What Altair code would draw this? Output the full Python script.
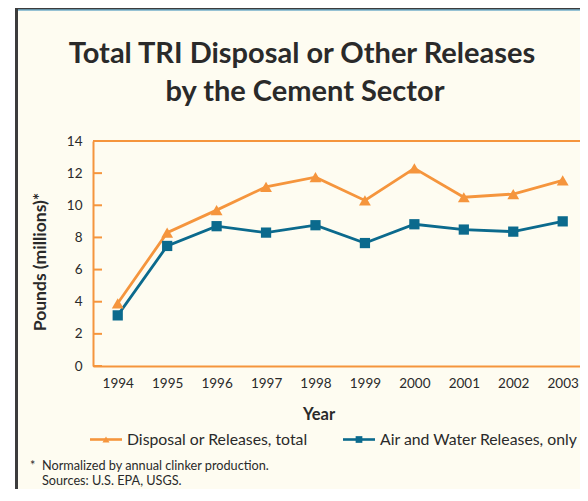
import altair as alt
import pandas as pd

years = [1994, 1995, 1996, 1997, 1998, 1999, 2000, 2001, 2002, 2003]
total = [3.9, 8.3, 9.7, 11.15, 11.75, 10.3, 12.3, 10.5, 10.7, 11.55]
air_water = [3.15, 7.47, 8.7, 8.3, 8.76, 7.65, 8.82, 8.49, 8.36, 9.0]
series_names = ["Disposal or Releases, total", "Air and Water Releases, only"]
y_ticks = [0, 2, 4, 6, 8, 10, 12, 14]
title_lines = ["Total TRI Disposal or Other Releases", "by the Cement Sector"]
note_lines = ["Normalized by annual clinker production.", "Sources: U.S. EPA, USGS."]

ORANGE = "#F5953D"
BLUE = "#0B6A8D"
TEXT = "#2A2A2A"
CREAM = "#FEFCF1"
FONT = "Lato"

df = pd.DataFrame({
    "year": years * 2,
    "value": total + air_water,
    "series": [series_names[0]] * len(years) + [series_names[1]] * len(years),
})

W, H = 487, 225
one = pd.DataFrame({"a": [0]})

xscale = alt.Scale(domain=[1993.5, 2003.35], nice=False, zero=False)
yscale = alt.Scale(domain=[0, 14], nice=False)
cscale = alt.Scale(domain=series_names, range=[ORANGE, BLUE])
sscale = alt.Scale(domain=series_names, range=["triangle-up", "square"])
zscale = alt.Scale(domain=series_names, range=[140, 105])

xaxis = alt.Axis(values=years, format="d", title=None, ticks=False, grid=False,
                 domainColor=ORANGE, domainWidth=2, labelFont=FONT, zindex=2,
                 labelFontSize=13.5, labelColor=TEXT, labelPadding=10,
                 labelOverlap=False)
yaxis = alt.Axis(values=y_ticks, title=None, ticks=False, grid=False,
                 domainColor=ORANGE, domainWidth=2, labelFont=FONT, zindex=2,
                 labelFontSize=13.5, labelColor=TEXT, labelPadding=11,
                 labelOverlap=False, labelBound=False, tickCount=8)

bg = alt.Chart(one).mark_rect(color=CREAM).encode(
    x=alt.value(-75), x2=alt.value(500), y=alt.value(-130.5), y2=alt.value(370))
border_left = alt.Chart(one).mark_rule(color="#3C3C3C", strokeWidth=3).encode(
    x=alt.value(-76.5), y=alt.value(-140), y2=alt.value(370))
border_top = alt.Chart(one).mark_rule(color="#3C3C3C", strokeWidth=2).encode(
    x=alt.value(-78), x2=alt.value(500), y=alt.value(-132.5))
border_blue = alt.Chart(one).mark_rule(color="#2F88B0", strokeWidth=1.2).encode(
    x=alt.value(-75), x2=alt.value(500), y=alt.value(-131))
top_line = alt.Chart(one).mark_rule(color=ORANGE, strokeWidth=2).encode(
    x=alt.value(0), x2=alt.value(W + 20), y=alt.value(0))

lines = alt.Chart(df).mark_line(strokeWidth=2.8).encode(
    x=alt.X("year:Q", scale=xscale, axis=xaxis),
    y=alt.Y("value:Q", scale=yscale, axis=yaxis),
    color=alt.Color("series:N", scale=cscale, legend=None),
    detail="series:N",
)
ticks = alt.Chart(pd.DataFrame({"v": y_ticks})).mark_rule(color=ORANGE, strokeWidth=2).encode(
    y=alt.Y("v:Q", scale=yscale, axis=yaxis), x=alt.value(0), x2=alt.value(9))
points = alt.Chart(df).mark_point(filled=True, opacity=1).encode(
    x=alt.X("year:Q", scale=xscale, axis=xaxis),
    y=alt.Y("value:Q", scale=yscale, axis=yaxis),
    color=alt.Color("series:N", scale=cscale, legend=None),
    shape=alt.Shape("series:N", scale=sscale, legend=None),
    size=alt.Size("series:N", scale=zscale, legend=None),
)

title = alt.Chart(pd.DataFrame({"t": title_lines, "i": [0, 1]})).transform_filter("datum.i == 0").mark_text(
    font=FONT, fontSize=29, fontWeight="bold", color=TEXT, align="center", baseline="alphabetic"
).encode(text="t:N", x=alt.value(209), y=alt.value(-78))
title2 = alt.Chart(pd.DataFrame({"t": title_lines, "i": [0, 1]})).transform_filter("datum.i == 1").mark_text(
    font=FONT, fontSize=29, fontWeight="bold", color=TEXT, align="center", baseline="alphabetic"
).encode(text="t:N", x=alt.value(212), y=alt.value(-40))

ytitle = alt.Chart(pd.DataFrame({"t": ["Pounds (millions)*"]})).mark_text(
    font=FONT, fontSize=17.5, fontWeight="bold", color=TEXT, align="center",
    baseline="alphabetic", angle=270
).encode(text="t:N", x=alt.value(-47), y=alt.value(121))
xtitle = alt.Chart(pd.DataFrame({"t": ["Year"]})).mark_text(
    font=FONT, fontSize=16.5, fontWeight="bold", color=TEXT, align="center", baseline="alphabetic"
).encode(text="t:N", x=alt.value(226), y=alt.value(279))

def legend_entry(name, color, shape, x0, size):
    d = pd.DataFrame({"s": [name]})
    r = alt.Chart(d).mark_rule(color=color, strokeWidth=2.6).encode(
        x=alt.value(x0), x2=alt.value(x0 + 32), y=alt.value(298.5))
    p = alt.Chart(d).mark_point(filled=True, shape=shape, size=size, color=color, opacity=1).encode(
        x=alt.value(x0 + 16), y=alt.value(298.5))
    t = alt.Chart(d).mark_text(font=FONT, fontSize=15.8, color=TEXT, align="left",
                               baseline="alphabetic").encode(
        text="s:N", x=alt.value(x0 + 37), y=alt.value(304))
    return r + p + t

leg1 = legend_entry(series_names[0], ORANGE, "triangle-up", -3, 50)
leg2 = legend_entry(series_names[1], BLUE, "square", 250, 45)

star = alt.Chart(pd.DataFrame({"t": ["*"]})).mark_text(
    font=FONT, fontSize=12.5, color=TEXT, align="left", baseline="alphabetic"
).encode(text="t:N", x=alt.value(-63), y=alt.value(329))
note1 = alt.Chart(pd.DataFrame({"t": note_lines[:1]})).mark_text(
    font=FONT, fontSize=12.7, color=TEXT, align="left", baseline="alphabetic"
).encode(text="t:N", x=alt.value(-51), y=alt.value(329))
note2 = alt.Chart(pd.DataFrame({"t": note_lines[1:]})).mark_text(
    font=FONT, fontSize=12.7, color=TEXT, align="left", baseline="alphabetic"
).encode(text="t:N", x=alt.value(-51), y=alt.value(344))

chart = alt.layer(
    bg, border_left, border_top, border_blue, top_line, lines, ticks, points,
    title, title2, ytitle, xtitle, leg1, leg2, star, note1, note2,
).properties(
    width=W, height=H,
    autosize="none",
    padding={"left": 85, "top": 133, "right": 0, "bottom": 123},
    background="white",
).configure_view(stroke=None).configure_axis(labelOverlap=False)

chart.save("out.html", embed_options={"renderer": "svg", "actions": False})
